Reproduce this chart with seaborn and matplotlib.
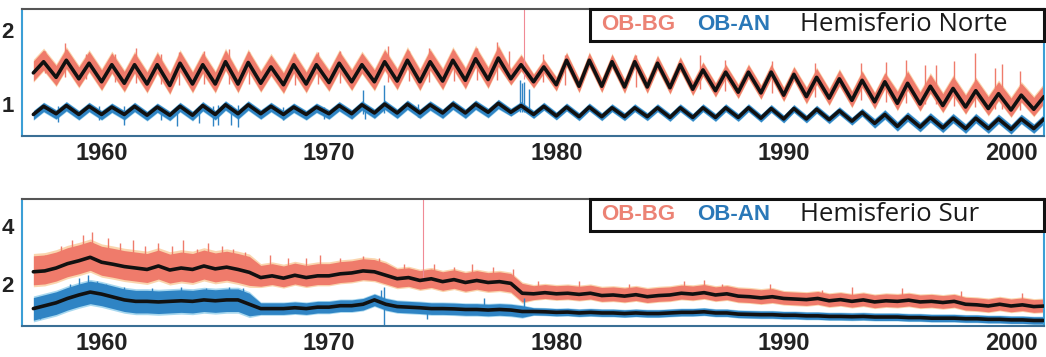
import matplotlib
matplotlib.use("Agg")
import matplotlib.pyplot as plt
import matplotlib.patches as mpatches
from matplotlib.ticker import MultipleLocator
import seaborn as sns
import numpy as np
import pandas as pd

years = list(range(1957, 2002))

# ---- Hemisferio Norte: minimo (inicio de año) y pico (mitad de año) de la curva suavizada
nh_bg_trough = [1.42, 1.36, 1.34, 1.30, 1.28, 1.27, 1.25, 1.27, 1.27, 1.27, 1.28, 1.26, 1.27, 1.29, 1.30,
                1.30, 1.31, 1.30, 1.31, 1.32, 1.33, 1.34, 1.30, 1.26, 1.24, 1.24, 1.23, 1.23, 1.22, 1.20,
                1.18, 1.16, 1.15, 1.12, 1.10, 1.08, 1.05, 1.03, 1.01, 1.00, 0.98, 0.96, 0.94, 0.92, 0.93]
nh_bg_peak = [1.57, 1.59, 1.55, 1.53, 1.53, 1.53, 1.55, 1.53, 1.57, 1.56, 1.50, 1.53, 1.53, 1.55, 1.53,
              1.57, 1.59, 1.57, 1.59, 1.61, 1.62, 1.53, 1.50, 1.59, 1.59, 1.57, 1.57, 1.55, 1.53, 1.46,
              1.43, 1.43, 1.43, 1.40, 1.36, 1.34, 1.32, 1.30, 1.28, 1.24, 1.21, 1.18, 1.14, 1.12, 1.10]
nh_an_trough = [0.86, 0.87, 0.86, 0.86, 0.86, 0.85, 0.85, 0.85, 0.86, 0.87, 0.87, 0.86, 0.86, 0.87, 0.87,
                0.88, 0.88, 0.88, 0.88, 0.88, 0.89, 0.89, 0.86, 0.84, 0.83, 0.83, 0.83, 0.83, 0.82, 0.82,
                0.82, 0.82, 0.81, 0.80, 0.80, 0.79, 0.77, 0.74, 0.70, 0.69, 0.68, 0.67, 0.67, 0.66, 0.67]
nh_an_peak = [0.97, 0.98, 0.97, 0.96, 0.97, 0.96, 0.97, 0.98, 0.99, 0.99, 0.97, 0.96, 0.96, 0.98, 0.99,
              1.00, 1.00, 0.99, 1.00, 1.00, 1.01, 0.98, 0.97, 0.96, 0.96, 0.95, 0.95, 0.95, 0.95, 0.95,
              0.95, 0.95, 0.94, 0.94, 0.93, 0.91, 0.89, 0.86, 0.83, 0.82, 0.81, 0.81, 0.80, 0.80, 0.80]
# anchura de la banda de datos brutos por encima / por debajo de la curva
nh_bg_up = [0.16] * 21 + [0.13] + [0.10] * 12 + [0.12] * 4 + [0.16] * 7
nh_bg_dn = [0.11] * 21 + [0.08] * 13 + [0.09] * 11
nh_an_up = [0.05] * 37 + [0.06] * 8
nh_an_dn = [0.07] * 21 + [0.05] * 16 + [0.06] * 8
# picos sueltos (fecha, valor)
nh_bg_spike_t = [1957.5, 1958.4, 1959.3, 1960.6, 1961.5, 1962.6, 1963.4, 1964.5, 1965.6, 1966.5, 1968.5,
                 1969.5, 1970.5, 1972.6, 1973.5, 1974.4, 1975.5, 1976.5, 1977.4, 1977.9, 1979.4, 1980.4,
                 1983.5, 1986.3, 1987.4, 1989.5, 1991.4, 1993.4, 1994.5, 1995.4, 1996.2, 1996.7, 1997.5,
                 1998.4, 1999.3, 1999.6, 2000.4]
nh_bg_spike_v = [1.72, 1.82, 1.68, 1.68, 1.75, 1.68, 1.70, 1.72, 1.74, 1.70, 1.68, 1.70, 1.72, 1.78, 1.72,
                 1.75, 1.72, 1.76, 1.83, 1.72, 1.68, 1.66, 1.66, 1.66, 1.60, 1.58, 1.55, 1.55, 1.56, 1.60,
                 1.52, 1.52, 1.58, 1.69, 1.48, 1.54, 1.45]
nh_an_down_t = [1958.1, 1959.9, 1961.0, 1962.6, 1963.3, 1964.3, 1964.9, 1965.1, 1965.7, 1966.0, 1968.0,
                1969.8, 1971.6, 1973.9]
nh_an_down_v = [0.76, 0.78, 0.72, 0.78, 0.70, 0.75, 0.70, 0.72, 0.72, 0.69, 0.78, 0.80, 0.80, 0.82]
nh_an_up_t = [1971.5, 1972.4, 1978.4, 1978.5, 1978.6, 1978.8]
nh_an_up_v = [1.19, 1.26, 1.32, 1.28, 1.30, 1.20]
nh_line_t = 1978.6

# ---- Hemisferio Sur: valor a inicio y a mitad de cada año
sh_bg_a = [2.42, 2.55, 2.80, 2.75, 2.60, 2.50, 2.48, 2.50, 2.52, 2.50, 2.22, 2.20, 2.22, 2.28, 2.38,
           2.42, 2.18, 2.12, 2.08, 2.05, 2.05, 2.02, 1.66, 1.66, 1.64, 1.60, 1.58, 1.56, 1.62, 1.65,
           1.62, 1.58, 1.52, 1.50, 1.46, 1.42, 1.40, 1.38, 1.40, 1.38, 1.36, 1.30, 1.24, 1.24, 1.22]
sh_bg_b = [2.45, 2.70, 2.92, 2.68, 2.55, 2.62, 2.55, 2.62, 2.58, 2.40, 2.28, 2.30, 2.28, 2.35, 2.45,
           2.30, 2.22, 2.18, 2.15, 2.12, 2.08, 1.68, 1.70, 1.68, 1.68, 1.62, 1.63, 1.60, 1.68, 1.70,
           1.66, 1.56, 1.56, 1.48, 1.50, 1.46, 1.45, 1.42, 1.44, 1.40, 1.40, 1.28, 1.30, 1.28, 1.24]
sh_an_a = [1.15, 1.35, 1.62, 1.65, 1.45, 1.40, 1.40, 1.40, 1.42, 1.45, 1.15, 1.15, 1.15, 1.20, 1.25,
           1.45, 1.22, 1.18, 1.15, 1.12, 1.10, 1.10, 1.05, 1.02, 1.00, 1.00, 0.98, 0.98, 1.00, 1.02,
           1.00, 0.96, 0.94, 0.92, 0.90, 0.88, 0.87, 0.86, 0.86, 0.84, 0.82, 0.80, 0.78, 0.76, 0.74]
sh_an_b = [1.25, 1.50, 1.72, 1.55, 1.40, 1.38, 1.42, 1.45, 1.45, 1.30, 1.15, 1.18, 1.20, 1.25, 1.30,
           1.30, 1.20, 1.15, 1.14, 1.12, 1.12, 1.05, 1.04, 1.03, 1.02, 1.00, 1.00, 0.98, 1.02, 1.04,
           1.00, 0.95, 0.94, 0.92, 0.90, 0.88, 0.88, 0.86, 0.84, 0.82, 0.82, 0.80, 0.78, 0.76, 0.74]
sh_bg_up = [0.55] * 10 + [0.42] * 6 + [0.34] * 6 + [0.28] * 11 + [0.24] * 12
sh_bg_dn = [0.45] * 10 + [0.30] * 12 + [0.20] * 23
sh_an_up = [0.38] * 10 + [0.20] * 12 + [0.13] * 23
sh_an_dn = [0.40] * 10 + [0.20] * 12 + [0.12] * 23
sh_bg_spike_t = [1957.5, 1958.2, 1958.7, 1959.2, 1959.6, 1960.3, 1960.8, 1961.4, 1961.9, 1962.5, 1963.1,
                 1963.6, 1964.2, 1964.7, 1965.3, 1965.8, 1966.3, 1967.4, 1968.2, 1969.0, 1969.6, 1970.5,
                 1971.5, 1972.2, 1973.3, 1974.6, 1975.5, 1976.3, 1977.2, 1978.1, 1979.2, 1981.0, 1983.2,
                 1985.6, 1986.5, 1987.3, 1989.4, 1991.7, 1993.0, 1995.2, 1997.8, 2000.5]
sh_bg_spike_v = [3.00, 3.30, 3.50, 3.70, 3.80, 3.60, 3.40, 3.50, 3.30, 3.40, 3.30, 3.50, 3.20, 3.40, 3.30,
                 3.20, 3.10, 3.00, 2.90, 2.90, 3.00, 2.90, 2.95, 2.90, 2.70, 2.70, 2.60, 2.70, 2.60, 2.50,
                 2.10, 2.10, 2.00, 2.10, 2.15, 2.00, 2.00, 1.80, 1.90, 1.85, 1.75, 1.70]
sh_an_up_t = [1958.6, 1959.0, 1959.4, 1959.8, 1960.2, 1961.0, 1962.2, 1963.5, 1964.6, 1965.6, 1966.2,
              1972.3, 1972.4, 1976.8, 1978.6]
sh_an_up_v = [2.00, 2.20, 2.30, 2.10, 2.00, 1.90, 1.85, 1.90, 1.85, 1.90, 1.85, 1.80, 1.90, 1.50, 1.50]
sh_an_down_t = [1957.3, 1972.4, 1974.3]
sh_an_down_v = [0.80, 0.60, 0.80]
sh_line_t = 1974.15

RED = "#ef7b6b"
ORANGE = "#f6b46c"
BLUE = "#2f84c4"
CYAN = "#62b8e2"
BLACK = "#111111"


def nodes(first, second, d1, d2):
    t, v = [], []
    for y, a, b in zip(years, first, second):
        t += [y + d1, y + d2]
        v += [a, b]
    return np.array(t), np.array(v)


def draw_series(ax, t, v, up, dn, core, fringe, spikes_up, spikes_dn, base_lo, base_hi):
    up = np.repeat(up, 2)
    dn = np.repeat(dn, 2)
    ax.fill_between(t, v - dn * 1.15, v + up * 1.15, color=fringe, alpha=0.55, lw=0, zorder=1)
    ax.fill_between(t, v - dn, v + up, color=core, lw=0, zorder=2)
    for (st, sv), base in ((spikes_up, base_lo), (spikes_dn, base_hi)):
        idx = [years.index(int(x)) for x in st]
        ax.vlines(st, [base[i] for i in idx], sv, color=core, lw=1.0, zorder=2)
    df = pd.DataFrame({"t": t, "v": v})
    sns.lineplot(data=df, x="t", y="v", ax=ax, color=BLACK, lw=2.6, zorder=5)


def style_axis(ax, ylim, ymajor, yminor, title):
    ax.set_xlim(1956.5, 2001.45)
    ax.set_ylim(*ylim)
    ax.set_xlabel("")
    ax.set_ylabel("")
    ax.xaxis.set_major_locator(MultipleLocator(10))
    ax.xaxis.set_minor_locator(MultipleLocator(1))
    ax.yaxis.set_major_locator(MultipleLocator(ymajor))
    if yminor:
        ax.yaxis.set_minor_locator(MultipleLocator(yminor))
    ax.tick_params(axis="x", which="major", direction="in", length=5, width=1.2, color="#3a6f95",
                   pad=4, labelsize=17)
    ax.tick_params(axis="x", which="minor", direction="in", length=4, width=1.2, color="#3a6f95")
    ax.tick_params(axis="y", which="major", direction="out", length=4, width=1.2, color="#3b9fd6",
                   pad=2, labelsize=16)
    ax.tick_params(axis="y", which="minor", direction="in", length=3, width=1, color="#3b9fd6")
    for lab in ax.get_xticklabels() + ax.get_yticklabels():
        lab.set_fontweight("bold")
        lab.set_family("Liberation Sans")
        lab.set_color("#222222")
    ax.spines["left"].set_color("#3b9fd6")
    ax.spines["right"].set_color("#3b9fd6")
    ax.spines["bottom"].set_color("#3a6f95")
    ax.spines["top"].set_color("#555555")
    for s in ax.spines.values():
        s.set_linewidth(1.5)
        s.set_visible(True)
    box_y = 0.75
    ax.add_patch(mpatches.Rectangle((0.556, box_y), 0.444, 1 - box_y, transform=ax.transAxes,
                                    facecolor="white", edgecolor="#111111", lw=2.2, zorder=10,
                                    clip_on=False))
    yc = (1 + box_y) / 2
    ax.text(0.567, yc, "OB-BG", transform=ax.transAxes, color="#ec8274", fontsize=16,
            fontweight="bold", family="Liberation Sans", va="center", zorder=11)
    ax.text(0.661, yc, "OB-AN", transform=ax.transAxes, color="#2a78b8", fontsize=16,
            fontweight="bold", family="Liberation Sans", va="center", zorder=11)
    ax.text(0.761, yc, title, transform=ax.transAxes, color="#1a1a1a", fontsize=18.5,
            family="Open Sans", va="center", zorder=11)


sns.set_theme(style="white")
fig = plt.figure(figsize=(10.46, 3.57), dpi=100)
ax1 = fig.add_axes([22 / 1046, 1 - 136 / 357, 1022 / 1046, 127 / 357])
ax2 = fig.add_axes([22 / 1046, 1 - 326 / 357, 1022 / 1046, 127 / 357])

# Norte
t, v = nodes(nh_bg_trough, nh_bg_peak, 0.0, 0.45)
draw_series(ax1, t, v, nh_bg_up, nh_bg_dn, RED, ORANGE,
            (nh_bg_spike_t, nh_bg_spike_v), ([], []), nh_bg_trough, nh_bg_peak)
ax1.vlines([nh_line_t], nh_bg_trough[years.index(int(nh_line_t))], 2.3, color="#f08a95", lw=0.8, zorder=2)
t, v = nodes(nh_an_trough, nh_an_peak, 0.0, 0.45)
draw_series(ax1, t, v, nh_an_up, nh_an_dn, BLUE, CYAN,
            (nh_an_up_t, nh_an_up_v), (nh_an_down_t, nh_an_down_v), nh_an_trough, nh_an_peak)
style_axis(ax1, (0.57, 2.28), 1, 0.2, "Hemisferio Norte")

# Sur
t, v = nodes(sh_bg_a, sh_bg_b, 0.0, 0.5)
sh_bg_lo = [min(a, b) for a, b in zip(sh_bg_a, sh_bg_b)]
sh_bg_hi = [max(a, b) for a, b in zip(sh_bg_a, sh_bg_b)]
draw_series(ax2, t, v, sh_bg_up, sh_bg_dn, RED, ORANGE,
            (sh_bg_spike_t, sh_bg_spike_v), ([], []), sh_bg_lo, sh_bg_hi)
ax2.vlines([sh_line_t], sh_bg_lo[years.index(int(sh_line_t))], 4.93, color="#f08a95", lw=0.8, zorder=2)
t, v = nodes(sh_an_a, sh_an_b, 0.0, 0.5)
sh_an_lo = [min(a, b) for a, b in zip(sh_an_a, sh_an_b)]
sh_an_hi = [max(a, b) for a, b in zip(sh_an_a, sh_an_b)]
draw_series(ax2, t, v, sh_an_up, sh_an_dn, BLUE, CYAN,
            (sh_an_up_t, sh_an_up_v), (sh_an_down_t, sh_an_down_v), sh_an_lo, sh_an_hi)
style_axis(ax2, (0.55, 4.93), 2, None, "Hemisferio Sur")

fig.savefig("out.png", dpi=100)
